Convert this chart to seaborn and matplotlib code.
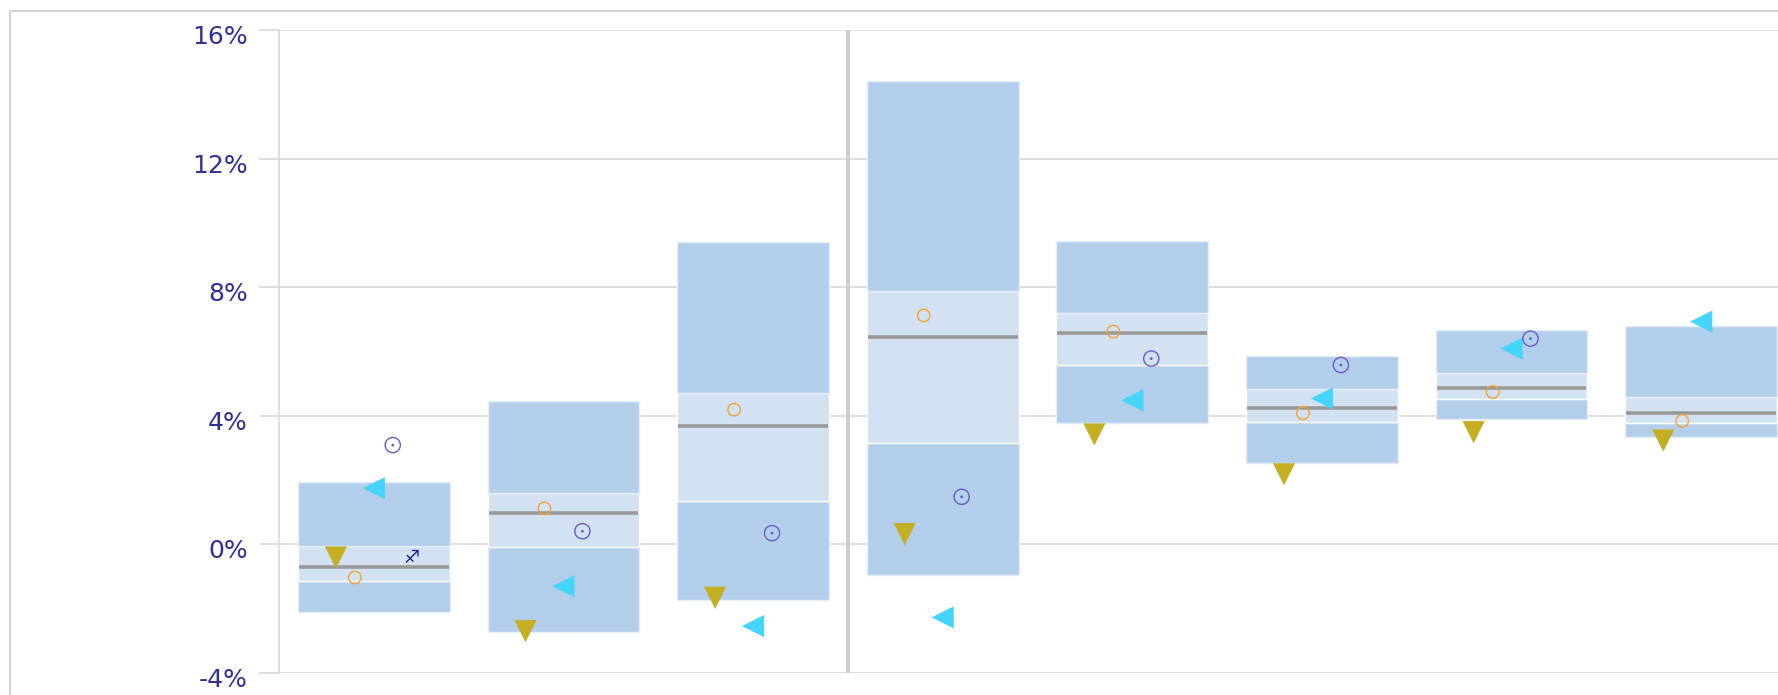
import numpy as np
import pandas as pd
import matplotlib
matplotlib.use("Agg")
import matplotlib.pyplot as plt
import matplotlib.transforms as mtransforms
from matplotlib.lines import Line2D
from matplotlib.ticker import FuncFormatter
import seaborn as sns

# ---- data (values in %) ----
positions = np.arange(8)
box_low   = [-2.09, -2.72, -1.73, -0.95, 3.78, 2.54, 3.91, 3.33]
band_low  = [-1.14, -0.09, 1.34, 3.14, 5.57, 3.82, 4.53, 3.78]
median    = [-0.71, 0.97, 3.67, 6.44, 6.56, 4.23, 4.85, 4.09]
band_high = [-0.05, 1.61, 4.72, 7.89, 7.20, 4.84, 5.32, 4.59]
box_high  = [1.93, 4.46, 9.41, 14.42, 9.44, 5.85, 6.67, 6.79]

orange_vals = [-1.03, 1.12, 4.19, 7.12, 6.62, 4.08, 4.74, 3.84]
dark_vals   = [3.09, 0.41, 0.35, 1.48, 5.78, 5.58, 6.40, np.nan]
cyan_vals   = [1.75, -1.30, -2.54, -2.27, 4.48, 4.54, 6.09, 6.93]
olive_vals  = [-0.41, -2.70, -1.66, 0.32, 3.42, 2.18, 3.49, 3.23]
arrow_vals  = [-0.41, np.nan, np.nan, np.nan, np.nan, np.nan, np.nan, np.nan]

y_ticks = [-4, 0, 4, 8, 12, 16]

# ---- style ----
sns.set_theme(style="white")
plt.rcParams['font.family'] = ['DejaVu Sans']
plt.rcParams['axes.unicode_minus'] = False

OUTER = '#B3CEEB'
INNER = '#D3E2F3'
GRID = '#D9D9D9'
LABEL = '#2E3192'

W, H = 1778, 695
fig = plt.figure(figsize=(W / 100, H / 100), dpi=100)
ax = fig.add_axes([279 / W, (H - 673) / H, (1796 - 279) / W, (673 - 30) / H])

bl = np.array(box_low); b1 = np.array(band_low); b2 = np.array(band_high); bh = np.array(box_high)
ax.bar(positions, b1 - bl, bottom=bl, width=0.8, color=OUTER, edgecolor='#E4EDF8', linewidth=1, zorder=2)
ax.bar(positions, b2 - b1, bottom=b1, width=0.8, color=INNER, edgecolor='white', linewidth=1, zorder=2)
ax.bar(positions, bh - b2, bottom=b2, width=0.8, color=OUTER, edgecolor='#E4EDF8', linewidth=1, zorder=2)
ax.hlines(median, positions - 0.395, positions + 0.395, color='#999999', linewidth=2.6, zorder=3)

# markers
sns.scatterplot(x=positions - 0.2, y=olive_vals, marker='v', s=256, color='#C4AE22',
                edgecolor='none', linewidth=0, ax=ax, zorder=4)
sns.scatterplot(x=positions - 0.1, y=orange_vals, marker='o', s=80, color='#F5A030',
                facecolors='none', edgecolor='#F5A030', linewidth=1.0, ax=ax, zorder=4)
sns.scatterplot(x=positions, y=cyan_vals, marker='<', s=256, color='#45D5FA',
                edgecolor='none', linewidth=0, ax=ax, zorder=4)
sns.scatterplot(x=positions + 0.1, y=dark_vals, marker='o', s=120, color='#6A5BC2',
                facecolors='none', edgecolor='#6A5BC2', linewidth=1.0, ax=ax, zorder=4)
sns.scatterplot(x=positions + 0.1, y=dark_vals, marker='o', s=4, color='#6A5BC2',
                edgecolor='none', linewidth=0, ax=ax, zorder=4)
for p, v in zip(positions, arrow_vals):
    if not np.isnan(v):
        ax.text(p + 0.2, v, '\u2650', ha='center', va='center', fontsize=13,
                color='#1A1A8C', zorder=5)

# separator
ax.axvline(2.5, color='#CCCCCC', linewidth=2.8, zorder=1)

# axes
ax.set_xlim(-0.5, 7.5)
ax.set_ylim(-4, 16)
ax.set_yticks(y_ticks)
ax.yaxis.set_major_formatter(FuncFormatter(lambda v, _: f"{v:.0f}%"))
ax.set_xticks([])
ax.set_xlabel('')
ax.set_ylabel('')
ax.yaxis.grid(True, color=GRID, linewidth=1.2, zorder=0)
ax.set_axisbelow(True)
for s in ['top', 'right', 'bottom']:
    ax.spines[s].set_visible(False)
ax.spines['left'].set_color(GRID)
ax.spines['left'].set_linewidth(1.2)
ax.tick_params(axis='y', left=True, length=14.4, width=1.2, color=GRID, pad=8,
               labelsize=18, labelcolor=LABEL)
offset = mtransforms.ScaledTranslation(0, -4.5 / 100, fig.dpi_scale_trans)
for lbl in ax.yaxis.get_majorticklabels():
    lbl.set_transform(lbl.get_transform() + offset)

# outer frame (top and left edges visible)
fig.add_artist(Line2D([10 / W, 1.0], [1 - 11 / H, 1 - 11 / H], transform=fig.transFigure,
                      color='#CCCCCC', linewidth=1.3))
fig.add_artist(Line2D([10 / W, 10 / W], [1 - 11 / H, 0.0], transform=fig.transFigure,
                      color='#CCCCCC', linewidth=1.3))

fig.savefig('out.png', dpi=100)
